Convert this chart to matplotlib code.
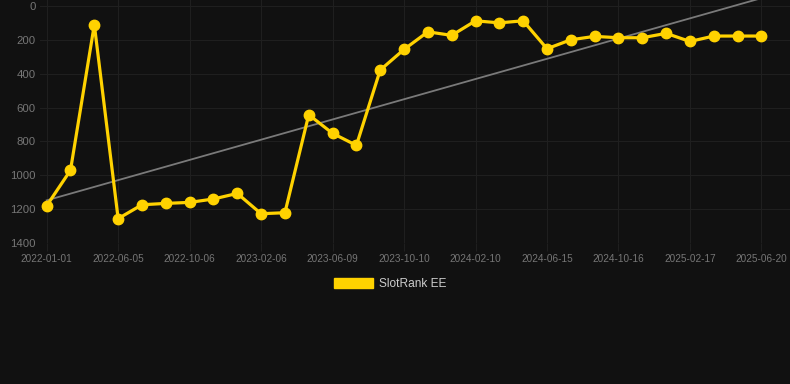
"""SlotRank EE rank history, dark theme."""
import numpy as np
import matplotlib
matplotlib.use("Agg")
import matplotlib.pyplot as plt
from matplotlib.patches import Patch

# rank values, one per sample (lower rank = better, axis inverted)
ranks = [1180, 970, 110, 1256, 1174, 1166, 1160, 1140, 1107, 1227, 1221,
         642, 752, 823, 378, 256, 152, 173, 87, 99, 87, 252, 199, 179,
         187, 187, 161, 209, 177, 177, 177]
# every third sample carries a date label
tick_labels = ["2022-01-01", "2022-06-05", "2022-10-06", "2023-02-06",
               "2023-06-09", "2023-10-10", "2024-02-10", "2024-06-15",
               "2024-10-16", "2025-02-17", "2025-06-20"]
y_ticks = [0, 200, 400, 600, 800, 1000, 1200, 1400]

BG = "#111111"
GRID = "#1f1f1f"
GOLD = "#FFD200"
TICK_COL = "#767676"

plt.rcParams["font.family"] = ["Liberation Sans", "DejaVu Sans"]

x = np.arange(len(ranks))
slope, icpt = np.polyfit(x, ranks, 1)

fig = plt.figure(figsize=(7.9, 3.84), dpi=100, facecolor=BG)
ax = fig.add_axes([40 / 790, 141 / 384, 750 / 790, 243 / 384], facecolor=BG)

# trend line
ax.plot(x, icpt + slope * x, color="#7a7a7a", lw=1.3, zorder=2)
# main series
ax.plot(x, ranks, color=GOLD, lw=2.3, marker="o", ms=7.5,
        solid_joinstyle="miter", zorder=3)

ax.set_xlim(-0.28, 31.2)
ax.set_ylim(1400, -36)
ax.set_yticks(y_ticks)
ax.set_yticklabels([str(v) for v in y_ticks])
ax.set_xticks(x[::3])
ax.set_xticklabels(tick_labels)

ax.grid(True, color=GRID, lw=0.8)
for s in ax.spines.values():
    s.set_visible(False)
ax.tick_params(axis="y", length=0, pad=3, labelsize=8.2, labelcolor=TICK_COL)
ax.tick_params(axis="x", length=6, color=GRID, pad=2, labelsize=7.2,
               labelcolor=TICK_COL)

fig.legend(handles=[Patch(facecolor=GOLD, edgecolor=GOLD)],
           labels=["SlotRank EE"], loc="center",
           bbox_to_anchor=(390 / 790, 1 - 284 / 384), frameon=False,
           handlelength=3.3, handleheight=0.9, handletextpad=0.5,
           fontsize=8.6, labelcolor="#cccccc")

fig.savefig("out.png", dpi=100, facecolor=BG)
